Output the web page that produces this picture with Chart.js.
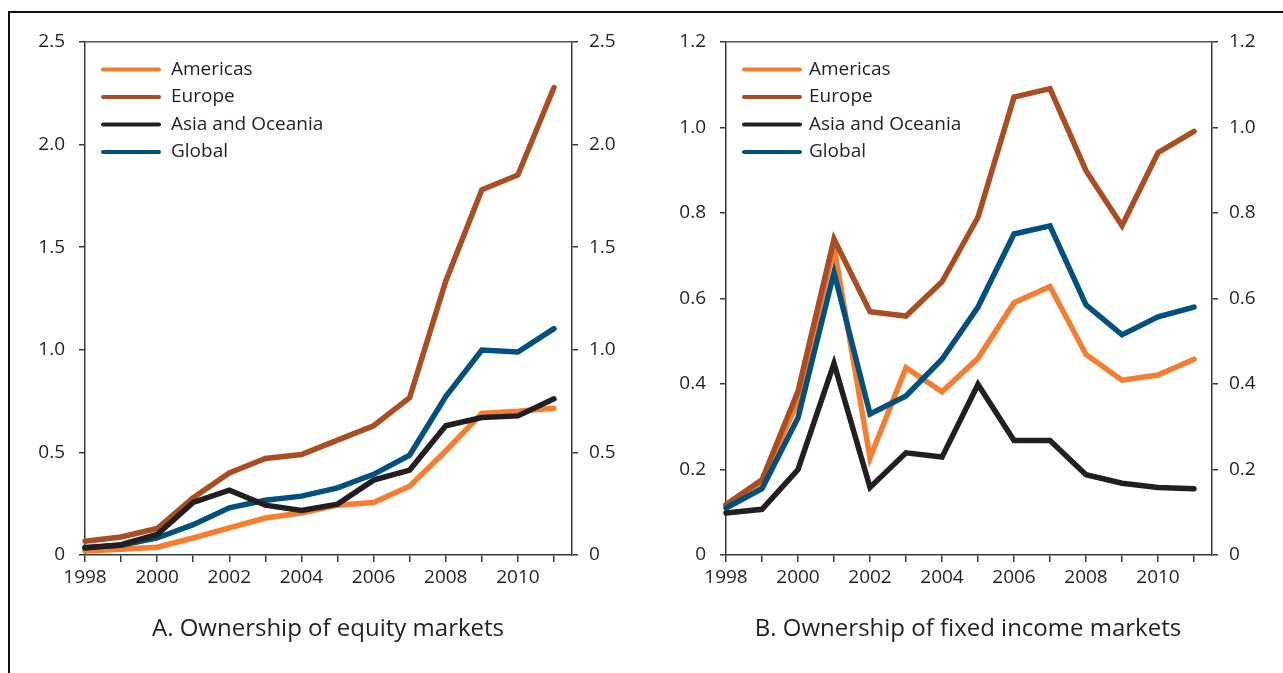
<!DOCTYPE html>
<html>
<head>
<meta charset="utf-8">
<script src="https://cdn.jsdelivr.net/npm/chart.js@4.4.1/dist/chart.umd.min.js"></script>
<style>
  html, body { margin: 0; padding: 0; background: #fff; }
  body { width: 1283px; height: 673px; position: relative; overflow: hidden; font-family: "Open Sans", sans-serif; }
  .frame { position: absolute; left: 8px; top: 11px; width: 1300px; height: 700px;
           border-top: 2px solid #111; border-left: 2px solid #111; }
  canvas { position: absolute; top: 0; }
  .caption { position: absolute; top: 610px; font-size: 24px; color: #231F20;
             text-align: center; width: 600px; line-height: 34px; }
</style>
</head>
<body>
<div class="frame"></div>
<canvas id="chartA" width="640" height="673" style="left:0"></canvas>
<canvas id="chartB" width="643" height="673" style="left:640px"></canvas>
<div class="caption" style="left:28px">A. Ownership of equity markets</div>
<div class="caption" style="left:668px">B. Ownership of fixed income markets</div>
<script>
// ---------------- Data ----------------
const years = [1998, 1999, 2000, 2001, 2002, 2003, 2004, 2005, 2006, 2007, 2008, 2009, 2010, 2011];
const seriesNames = ["Americas", "Europe", "Asia and Oceania", "Global"];

// Panel A: equity
const equityAmericas = [0.02, 0.028, 0.038, 0.083, 0.132, 0.18, 0.205, 0.243, 0.256, 0.335, 0.507, 0.69, 0.70, 0.715];
const equityEurope   = [0.067, 0.088, 0.129, 0.279, 0.40, 0.47, 0.49, 0.56, 0.63, 0.767, 1.334, 1.78, 1.852, 2.278];
const equityAsia     = [0.034, 0.05, 0.10, 0.256, 0.316, 0.243, 0.217, 0.248, 0.365, 0.414, 0.63, 0.67, 0.678, 0.761];
const equityGlobal   = [0.036, 0.047, 0.083, 0.148, 0.23, 0.267, 0.287, 0.327, 0.393, 0.487, 0.772, 0.999, 0.989, 1.103];
const equityTicks    = { min: 0, max: 2.5, step: 0.5 };

// Panel B: fixed income
const bondAmericas = [0.116, 0.17, 0.36, 0.72, 0.227, 0.438, 0.382, 0.46, 0.59, 0.628, 0.469, 0.409, 0.421, 0.458];
const bondEurope   = [0.118, 0.176, 0.383, 0.739, 0.569, 0.559, 0.639, 0.79, 1.071, 1.091, 0.899, 0.77, 0.941, 0.991];
const bondAsia     = [0.098, 0.107, 0.20, 0.448, 0.158, 0.239, 0.229, 0.399, 0.268, 0.268, 0.188, 0.168, 0.158, 0.155];
const bondGlobal   = [0.11, 0.155, 0.321, 0.661, 0.33, 0.372, 0.458, 0.58, 0.751, 0.770, 0.585, 0.515, 0.557, 0.58];
const bondTicks    = { min: 0, max: 1.2, step: 0.2 };

const colors = ["#F47D30", "#AA4E22", "#231F20", "#00517F"];
const drawOrder = [3, 2, 0, 1]; // Asia on top, then Global

Chart.defaults.font.family = "'Open Sans', sans-serif";
Chart.defaults.font.size = 19;
Chart.defaults.color = "#231F20";

const axisColor = "#3a3a3a";

// legend drawn inside the plot, top-left
const insideLegend = {
    id: "insideLegend",
    afterDatasetsDraw(chart, args, opts) {
        const { ctx, chartArea } = chart;
        ctx.save();
        ctx.font = "19px 'Open Sans', sans-serif";
        ctx.textBaseline = "middle";
        chart.data.datasets.forEach(function(ds, i) {
            const y = chartArea.top + opts.top + i * opts.step;
            const x0 = chartArea.left + opts.lineStart;
            ctx.strokeStyle = ds.borderColor;
            ctx.lineWidth = 4;
            ctx.lineCap = "round";
            ctx.beginPath();
            ctx.moveTo(x0 + 2, y);
            ctx.lineTo(x0 + 58, y);
            ctx.stroke();
            ctx.fillStyle = "#231F20";
            ctx.fillText(ds.label, chartArea.left + opts.textStart, y);
        });
        ctx.restore();
    }
};

function fmt(v) {
    return v === 0 ? "0" : v.toFixed(1);
}

function makeChart(id, series, range, leftW, rightW, legendText) {
    const max = range.max;
    return new Chart(document.getElementById(id), {
        type: "line",
        data: {
            labels: years,
            datasets: series.map(function(vals, i) {
                return {
                    label: seriesNames[i],
                    data: vals,
                    borderColor: colors[i],
                    backgroundColor: colors[i],
                    borderWidth: 5.5,
                    borderCapStyle: "round",
                    borderJoinStyle: "miter",
                    pointRadius: 0,
                    tension: 0,
                    fill: false,
                    clip: false,
                    order: drawOrder[i],
                };
            }),
        },
        options: {
            responsive: false,
            animation: false,
            devicePixelRatio: 1,
            layout: { padding: { left: 0, right: 0, top: 42, bottom: 58 } },
            plugins: {
                legend: { display: false },
                tooltip: { enabled: false },
                insideLegend: { top: 27.5, step: 27.5, lineStart: 16, textStart: legendText },
            },
            scales: {
                x: {
                    type: "linear",
                    min: 1998,
                    max: 2011.5,
                    afterFit: function(s) { s.height = 60; },
                    border: { color: axisColor, width: 1.5 },
                    grid: { drawOnChartArea: false, tickLength: 7, color: axisColor, lineWidth: 1.5 },
                    ticks: {
                        stepSize: 1,
                        includeBounds: false,
                        autoSkip: false,
                        maxRotation: 0,
                        padding: 4,
                        callback: function(v) { return v % 2 === 0 ? String(v) : ""; },
                    },
                },
                y: {
                    position: "left",
                    min: range.min,
                    max: range.max,
                    afterFit: function(s) { s.width = leftW; },
                    border: { color: axisColor, width: 1.5 },
                    grid: {
                        tickLength: 6,
                        lineWidth: 1.5,
                        tickColor: axisColor,
                        color: function(c) { return c.tick && Math.abs(c.tick.value - max) < 1e-9 ? "#555" : "rgba(0,0,0,0)"; },
                    },
                    ticks: { stepSize: range.step, padding: 14, callback: fmt },
                },
                y2: {
                    position: "right",
                    min: range.min,
                    max: range.max,
                    afterFit: function(s) { s.width = rightW; },
                    border: { color: axisColor, width: 1.5 },
                    grid: { drawOnChartArea: false, tickLength: 6, color: axisColor, lineWidth: 1.5 },
                    ticks: { stepSize: range.step, padding: 11, callback: fmt },
                },
            },
        },
        plugins: [insideLegend],
    });
}

makeChart("chartA", [equityAmericas, equityEurope, equityAsia, equityGlobal], equityTicks, 85, 68, 86);
makeChart("chartB", [bondAmericas, bondEurope, bondAsia, bondGlobal], bondTicks, 86, 71, 83);
</script>
</body>
</html>
